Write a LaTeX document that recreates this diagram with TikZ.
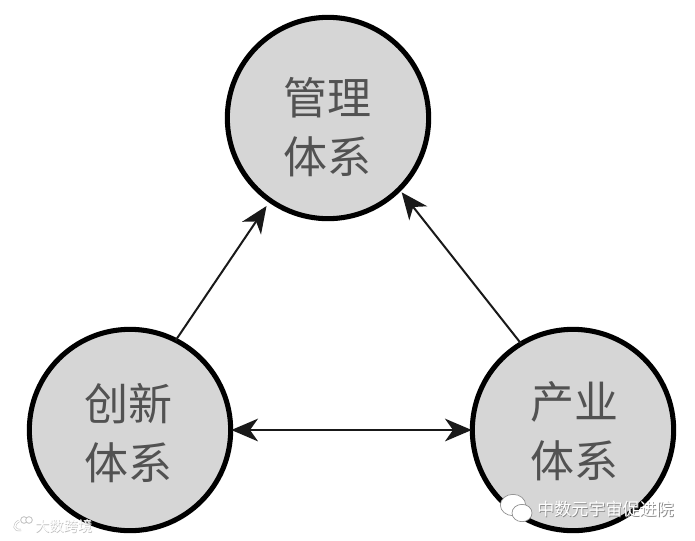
\documentclass[tikz,border=0pt]{standalone}
\usepackage{fontspec}
\newfontfamily\cjk{Noto Sans CJK SC}
\usetikzlibrary{arrows.meta,shapes.geometric}
\definecolor{fillgrey}{gray}{0.84}
\definecolor{inkgrey}{gray}{0.32}
\tikzset{
  sysnode/.style={circle,draw=black,line width=3.8pt,fill=fillgrey,minimum size=151pt,inner sep=0pt,outer sep=0pt},
  systext/.style={inner sep=0pt,align=center,text=inkgrey,font=\cjk\fontsize{33}{44}\selectfont},
  link/.style={draw=black!90,line width=1.5pt,-{Stealth[length=20pt,width=17pt,inset=6pt]}},
  linkboth/.style={draw=black!90,line width=1.5pt,{Stealth[length=20pt,width=17pt,inset=6pt]}-{Stealth[length=20pt,width=17pt,inset=6pt]}},
  wm/.style={text=white,font=\cjk\fontsize{#1}{#1}\selectfont,inner sep=0pt,anchor=west},
  wmshadow/.style={text=black!45,font=\cjk\fontsize{#1}{#1}\selectfont,inner sep=0pt,anchor=west},
  wmshadowlight/.style={text=black!25,font=\cjk\fontsize{#1}{#1}\selectfont,inner sep=0pt,anchor=west},
  bubble/.style={ellipse,fill=white,draw=black!45,line width=0.5pt,inner sep=0pt},
  logoring/.style={circle,draw=black!25,fill=white,line width=0.6pt,inner sep=0pt,minimum size=5pt}
}
\begin{document}
\begin{tikzpicture}[x=0.75pt,y=-0.75pt]
\useasboundingbox (0,0) rectangle (695,540);
\fill[white] (0,0) rectangle (695,540);
\node[sysnode] (top) at (328,118) {};
\node[sysnode] (left) at (130,430) {};
\node[sysnode] (right) at (573,430) {};
\node[systext] (toptext) at (327,127) {管理\\体系};
\node[systext] (lefttext) at (128,433) {创新\\体系};
\node[systext] (righttext) at (574,431) {产业\\体系};
\draw[link,shorten >=5pt] (left.63) -- (top.235);
\draw[link,shorten >=3pt] (right.121) -- (top.-45);
\draw[linkboth,shorten <=0.5pt,shorten >=0.5pt] (left.east) -- (right.west);
% watermarks
\node[wmshadow=12.8] (wmrshadow) at (537.8,509.8) {中数元宇宙促进院};
\node[wm=12.8] (wmr) at (537,509) {中数元宇宙促进院};
\node[bubble,minimum width=19pt,minimum height=16pt] (bubbleone) at (513,505) {};
\node[bubble,minimum width=15pt,minimum height=13pt] (bubbletwo) at (522,513) {};
\node[wmshadowlight=10.7] (wmlshadow) at (35.6,526.6) {大数跨境};
\node[wm=10.7] (wml) at (35,526) {大数跨境};
\node[logoring] (ringone) at (24,520) {};
\node[logoring] (ringtwo) at (29,520) {};
\draw[black!25,line width=1.8pt] (10,520) -- (10,532);
\draw[black!25,line width=1.8pt] (19,521) .. controls (13,524) and (13,531) .. (21,530);
\draw[white,line width=1pt] (10,520) -- (10,532);
\draw[white,line width=1pt] (19,521) .. controls (13,524) and (13,531) .. (21,530);
\end{tikzpicture}
\end{document}
